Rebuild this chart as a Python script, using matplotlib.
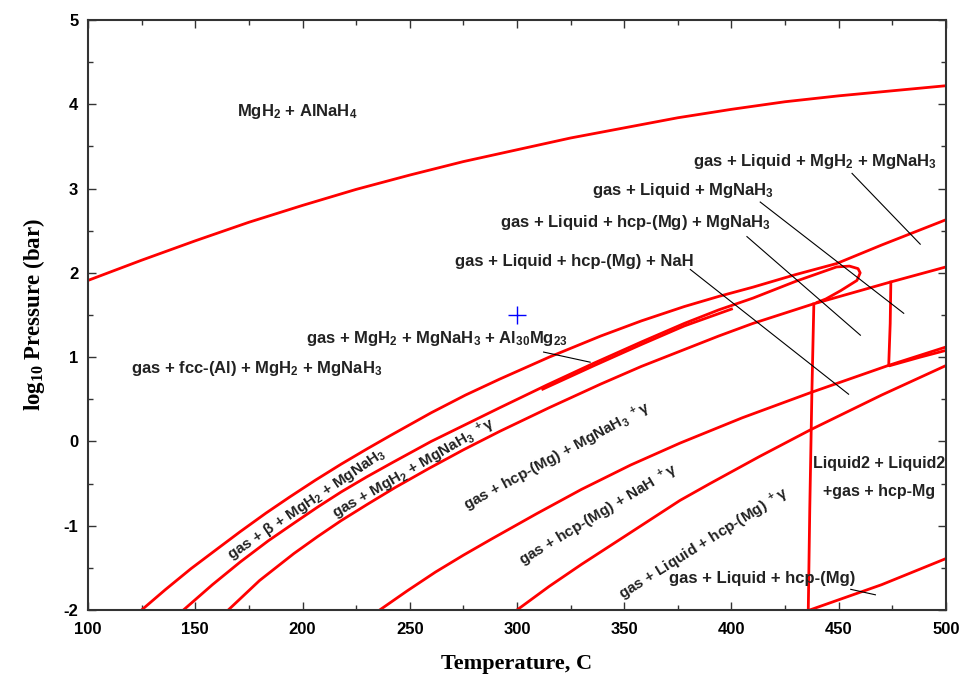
import matplotlib
matplotlib.use("Agg")
import matplotlib.pyplot as plt

plt.rcParams['font.family'] = ['Liberation Sans', 'DejaVu Sans']
plt.rcParams['mathtext.default'] = 'regular'
plt.rcParams['axes.unicode_minus'] = False

# phase boundaries, temperature (C) vs log10 pressure (bar)
a_T = [100, 125, 150, 175, 200, 225, 250, 275, 300, 325, 350, 375, 400, 425, 450, 475, 500]
a_P = [1.91, 2.15, 2.38, 2.60, 2.80, 2.99, 3.16, 3.32, 3.46, 3.60, 3.72, 3.84, 3.94, 4.03, 4.10, 4.16, 4.22]

b_T = [125, 136, 148, 160, 171, 183, 194, 206, 218, 230, 241, 260, 276, 292, 315, 339, 358, 378, 394, 410, 430, 449, 470, 500]
b_P = [-2.0, -1.76, -1.51, -1.28, -1.07, -0.85, -0.66, -0.46, -0.27, -0.09, 0.07, 0.34, 0.55, 0.74, 1.00, 1.25, 1.43, 1.60, 1.72, 1.83, 1.98, 2.11, 2.33, 2.63]

c_T = [144.5, 158, 171, 184, 196, 207, 218, 230, 242, 260, 276, 292, 314, 336, 358, 378, 394, 410, 430, 449, 455, 459, 460, 458.5, 451, 444, 440]
c_P = [-2.0, -1.70, -1.43, -1.18, -0.97, -0.78, -0.60, -0.42, -0.25, 0.0, 0.20, 0.40, 0.67, 0.93, 1.18, 1.40, 1.56, 1.70, 1.90, 2.07, 2.08, 2.05, 2.00, 1.91, 1.79, 1.69, 1.65]

# thin Al30Mg23 band alongside c
c2_T = [312, 336, 358, 378, 400]
c2_P = [0.62, 0.90, 1.15, 1.37, 1.57]

d_T = [165.4, 180, 196, 207, 218, 230, 243, 259, 275, 292, 315, 339, 358, 378, 394, 410, 438, 474, 500]
d_P = [-2.0, -1.65, -1.33, -1.13, -0.94, -0.75, -0.55, -0.32, -0.10, 0.12, 0.40, 0.68, 0.89, 1.09, 1.25, 1.40, 1.63, 1.89, 2.07]

e_T = [236, 249, 262, 275, 288, 309, 330, 353, 376, 405, 437, 473, 500]
e_P = [-2.0, -1.77, -1.55, -1.35, -1.16, -0.86, -0.57, -0.28, -0.02, 0.28, 0.58, 0.90, 1.12]

e2_T = [474, 488, 500]
e2_P = [0.90, 1.00, 1.08]

f_T = [300, 315, 330, 350, 376, 390, 413, 437, 470, 500]
f_P = [-2.0, -1.72, -1.46, -1.13, -0.70, -0.50, -0.18, 0.14, 0.55, 0.90]

g_T = [436.5, 470, 500]
g_P = [-2.0, -1.70, -1.39]

v1_T = [438.4, 437.5, 436.5, 435.8]
v1_P = [1.63, 0.60, -0.80, -2.0]

v2_T = [474.3, 474.0, 473.3]
v2_P = [1.89, 1.40, 0.90]

# label pointers: (T0, P0, T1, P1)
pointers = [
    (456.2, 3.18, 488.0, 2.34),
    (413.4, 2.84, 480.3, 1.52),
    (407.2, 2.43, 460.1, 1.26),
    (380.8, 2.04, 454.6, 0.56),
    (312.4, 1.06, 334.1, 0.94),
    (455.6, -1.755, 467.1, -1.82),
]

flat_labels = [
    (169.6, 3.91, r"MgH$_2$ + AlNaH$_4$"),
    (382.2, 3.32, r"gas + Liquid + MgH$_2$ + MgNaH$_3$"),
    (335.1, 2.98, r"gas + Liquid + MgNaH$_3$"),
    (292.2, 2.60, r"gas + Liquid + hcp-(Mg) + MgNaH$_3$"),
    (271.2, 2.14, r"gas + Liquid + hcp-(Mg) + NaH"),
    (201.7, 1.22, r"gas + MgH$_2$ + MgNaH$_3$ + Al$_{30}$Mg$_{23}$"),
    (120.1, 0.86, r"gas + fcc-(Al) + MgH$_2$ + MgNaH$_3$"),
    (371.0, -1.63, r"gas + Liquid + hcp-(Mg)"),
]

slanted_labels = [
    (202, -0.74, 34, r"gas + β + MgH$_2$ + MgNaH$_3$"),
    (252, -0.33, 30, r"gas + MgH$_2$ + MgNaH$_3$ $^+$γ"),
    (318.7, -0.18, 28.5, r"gas + hcp-(Mg) + MgNaH$_3$ $^+$γ"),
    (337.9, -0.88, 31, r"gas + hcp-(Mg) + NaH $^+$γ"),
    (387, -1.22, 32, r"gas + Liquid + hcp-(Mg) $^+$γ"),
]

fig = plt.figure(figsize=(9.64, 6.82), dpi=100)
ax = fig.add_axes([0.0913, 0.1056, 0.8900, 0.8651])

red = '#ff0000'
for T, P in [(a_T, a_P), (b_T, b_P), (c_T, c_P), (c2_T, c2_P), (d_T, d_P),
             (e_T, e_P), (e2_T, e2_P), (f_T, f_P), (g_T, g_P),
             (v1_T, v1_P), (v2_T, v2_P)]:
    ax.plot(T, P, color=red, lw=2, solid_joinstyle='round')

for t0, p0, t1, p1 in pointers:
    ax.plot([t0, t1], [p0, p1], color='black', lw=0.8)

ax.plot([300], [1.5], marker='+', color='blue', markersize=13, mew=1)

txt = '#222222'
for t, p, s in flat_labels:
    ax.text(t, p, s, fontsize=12, fontweight='bold', color=txt, ha='left', va='center')

ax.text(469, -0.26, "Liquid2 + Liquid2", fontsize=11.5, fontweight='bold', color=txt,
        ha='center', va='center')
ax.text(469, -0.60, "+gas + hcp-Mg", fontsize=11.5, fontweight='bold', color=txt,
        ha='center', va='center')

for t, p, rot, s in slanted_labels:
    ax.text(t, p, s, fontsize=11, fontweight='bold', color=txt, rotation=rot,
            rotation_mode='anchor', ha='center', va='center')

ax.set_xlim(100, 500)
ax.set_ylim(-2, 5)
ax.set_xticks(range(100, 501, 50))
ax.set_xticks(range(100, 501, 25), minor=True)
ax.set_yticks(range(-2, 6))
ax.set_yticks([y / 2 for y in range(-4, 11)], minor=True)
ax.tick_params(which='both', direction='in', top=True, right=True, colors='#333333',
               labelcolor='black', labelsize=12)
ax.tick_params(which='major', length=6, width=1)
ax.tick_params(which='minor', length=3.5, width=1)
ax.tick_params(axis='x', pad=9)
ax.tick_params(axis='y', pad=7)
for lab in ax.get_xticklabels() + ax.get_yticklabels():
    lab.set_fontweight('bold')
for sp in ax.spines.values():
    sp.set_color('#333333')
    sp.set_linewidth(1.5)

ax.set_xlabel("Temperature, C", fontsize=16, fontweight='bold', family='Liberation Serif',
              labelpad=12)
ax.set_ylabel(r"log$_{10}$ Pressure (bar)", fontsize=16.5, fontweight='bold',
              family='Liberation Serif', labelpad=12)

fig.savefig("out.png", dpi=100)
